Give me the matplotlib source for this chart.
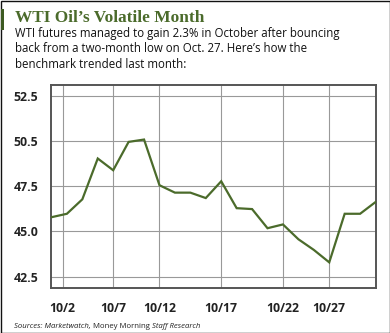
import matplotlib.pyplot as plt
from matplotlib.patches import Rectangle

# WTI daily settle, October trading days
days = list(range(22))
prices = [45.79, 45.98, 46.78, 49.04, 48.39, 49.96, 50.09, 47.56, 47.15, 47.15, 46.85,
          47.78, 46.29, 46.24, 45.18, 45.39, 44.57, 43.98, 43.29, 45.98, 45.98, 46.63]

x_tick_pos = [0.72, 4, 7, 11, 15, 18]
x_tick_labels = ['10/2', '10/7', '10/12', '10/17', '10/22', '10/27']
y_tick_pos = [42.5, 45.0, 47.5, 50.0, 52.5]
y_tick_labels = ['42.5', '45.0', '47.5', '50.5', '52.5']

green = '#4b6b2b'

fig = plt.figure(figsize=(3.9, 3.33), dpi=100)
ax = fig.add_axes([51/390, 1 - 288/333, 325/390, 203/333])

ax.plot(days, prices, color=green, lw=1.6, solid_joinstyle='miter', zorder=3)
ax.set_xlim(-0.03, 21.03)
ax.set_ylim(41.87, 53.11)

ax.set_xticks(x_tick_pos)
ax.set_xticklabels(x_tick_labels)
ax.set_yticks(y_tick_pos)
ax.set_yticklabels(y_tick_labels)
ax.grid(True, color='#999999', lw=0.8)
ax.tick_params(length=0, pad=9, labelsize=8.8, labelcolor='#222222')
for lab in ax.get_xticklabels() + ax.get_yticklabels():
    lab.set_fontweight('bold')
    lab.set_family('Open Sans')
ax.tick_params(axis='x', pad=10)
for s in ax.spines.values():
    s.set_color('#555555')
    s.set_linewidth(1.4)

# titles
fig.text(15/390, 1 - 22/333, 'WTI Oil\u2019s Volatile Month', family='Liberation Serif',
         fontweight='bold', fontsize=12.4, color=green)
sub = ('WTI futures managed to gain 2.3% in October after bouncing\n'
       'back from a two-month low on Oct. 27. Here\u2019s how the\n'
       'benchmark trended last month:')
fig.text(15/390, 1 - 27/333, sub, family='Open Sans', fontsize=8.3, va='top',
         linespacing=1.25, color='#111111')

# sources line
t = fig.text(14/390, 1 - 328/333, 'Sources: Marketwatch, ', family='Open Sans',
             style='italic', fontsize=5.6, color='#222222')
fig.canvas.draw()
bb = t.get_window_extent()
t2 = fig.text(bb.x1/390, 1 - 328/333, 'Money Morning ', family='Open Sans',
              fontsize=5.6, color='#222222')
bb2 = t2.get_window_extent()
fig.text(bb2.x1/390, 1 - 328/333, 'Staff Research', family='Open Sans',
         style='italic', fontsize=5.6, color='#222222')

# outer border and green accent bar
fig.patches.append(Rectangle((0.5/390, 0.5/333), 389/390, 332/333, transform=fig.transFigure,
                             fill=False, edgecolor='#111111', lw=1.0))
fig.patches.append(Rectangle((1/390, 1 - 30/333), 3/390, 21/333, transform=fig.transFigure,
                             color='#3d5a22', lw=0))

fig.savefig('out.png', dpi=100)
